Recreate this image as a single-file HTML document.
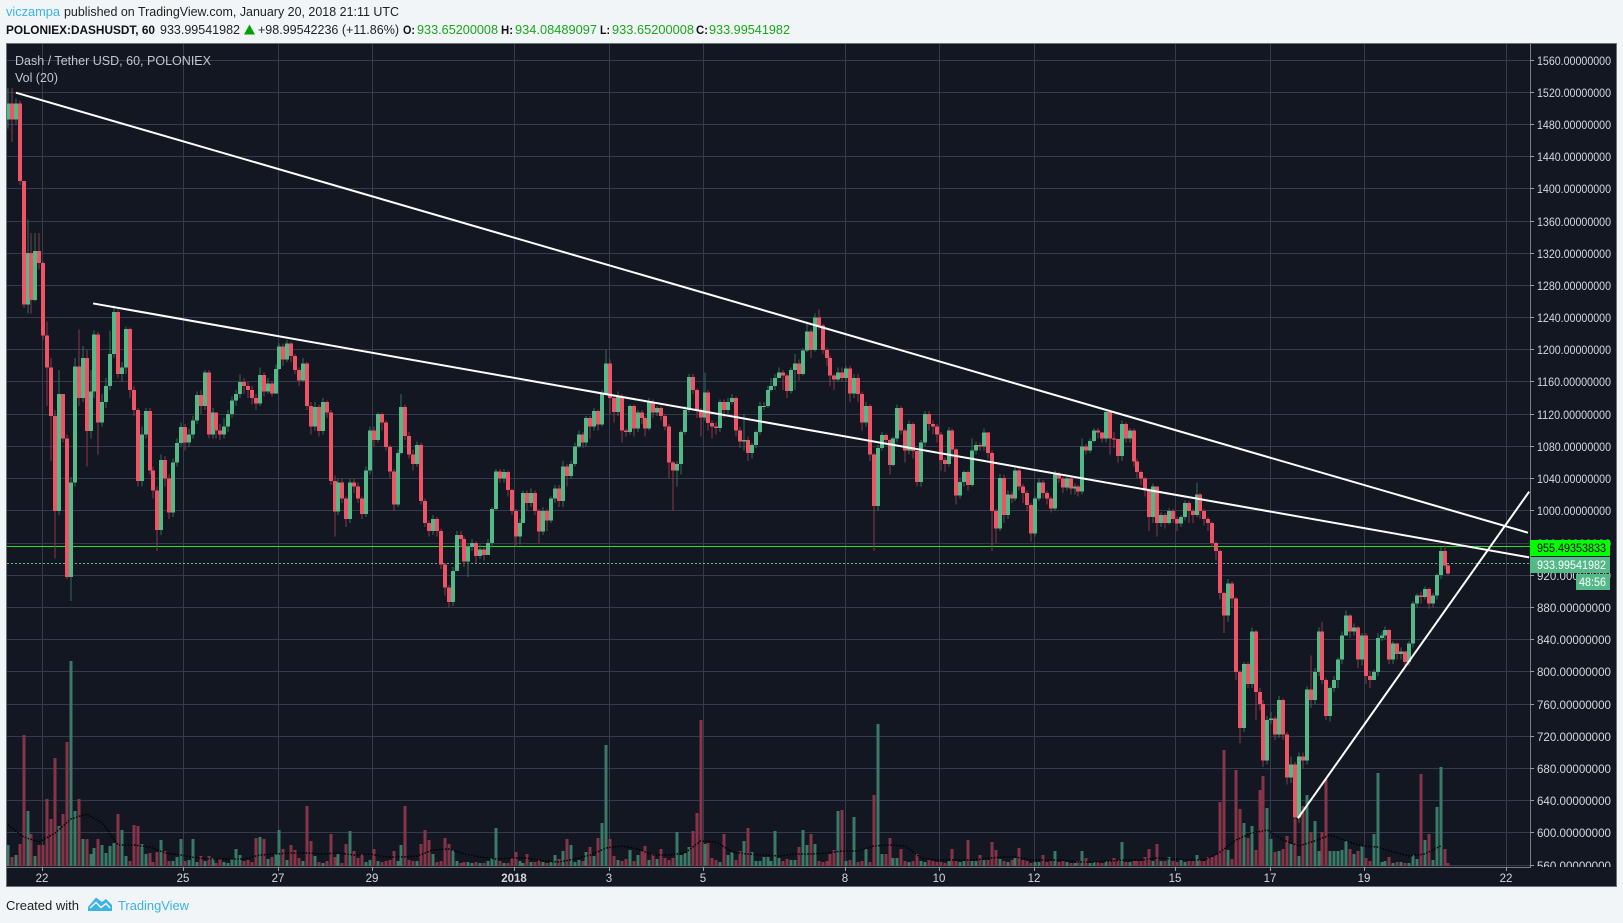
<!DOCTYPE html>
<html lang="en">
<head>
<meta charset="utf-8">
<title>DASHUSDT chart</title>
<style>
html,body{margin:0;padding:0;background:#f1f5f8;width:1623px;height:923px;overflow:hidden}
svg{display:block;font-family:"Liberation Sans",Arial,sans-serif}
</style>
</head>
<body>
<svg id="chart" xmlns="http://www.w3.org/2000/svg" width="1623" height="923" viewBox="0 0 1623 923">
  <defs>
    <clipPath id="pane"><rect x="7" y="44" width="1523" height="823"/></clipPath>
    <clipPath id="axisClip"><rect x="1530" y="44" width="86" height="823"/></clipPath>
  </defs>
  <rect x="0" y="0" width="1623" height="923" fill="#f1f5f8"/>
  <text x="6" y="16" font-size="12.5" fill="#3bb3e4" textLength="54" lengthAdjust="spacingAndGlyphs">viczampa</text>
  <text x="64" y="16" font-size="12.5" fill="#1e1e1e" textLength="335" lengthAdjust="spacingAndGlyphs">published on TradingView.com, January 20, 2018 21:11 UTC</text>
  <text x="6" y="34" font-size="12" font-weight="bold" fill="#111" textLength="149" lengthAdjust="spacingAndGlyphs">POLONIEX:DASHUSDT, 60</text>
  <text x="160" y="34" font-size="12.5" fill="#222" textLength="80" lengthAdjust="spacingAndGlyphs">933.99541982</text>
  <polygon points="244,34.500 249.500,24.500 255,34.500" fill="#00a000"/>
  <text x="258" y="34" font-size="12.500" fill="#222" textLength="141" lengthAdjust="spacingAndGlyphs">+98.99542236 (+11.86%)</text>
  <text x="403" y="34" font-size="12" font-weight="bold" fill="#111" textLength="12" lengthAdjust="spacingAndGlyphs">O:</text>
  <text x="417" y="34" font-size="12.500" fill="#18a818" textLength="81" lengthAdjust="spacingAndGlyphs">933.65200008</text>
  <text x="501" y="34" font-size="12" font-weight="bold" fill="#111" textLength="12" lengthAdjust="spacingAndGlyphs">H:</text>
  <text x="515" y="34" font-size="12.500" fill="#18a818" textLength="82" lengthAdjust="spacingAndGlyphs">934.08489097</text>
  <text x="600" y="34" font-size="12" font-weight="bold" fill="#111" textLength="10" lengthAdjust="spacingAndGlyphs">L:</text>
  <text x="612" y="34" font-size="12.500" fill="#18a818" textLength="82" lengthAdjust="spacingAndGlyphs">933.65200008</text>
  <text x="696" y="34" font-size="12" font-weight="bold" fill="#111" textLength="12" lengthAdjust="spacingAndGlyphs">C:</text>
  <text x="709" y="34" font-size="12.500" fill="#18a818" textLength="81" lengthAdjust="spacingAndGlyphs">933.99541982</text>

  <rect x="6.500" y="43.500" width="1610" height="843" fill="#131722" stroke="#6e7176" stroke-width="1"/>
  <g id="grid"></g>
  <g id="volumes" clip-path="url(#pane)"></g>
  <polyline id="volMA" fill="none" stroke="#000" stroke-width="1.500" stroke-dasharray="1.500 1.500" clip-path="url(#pane)"/>
  <line id="levelLine" x1="7" x2="1530" stroke="#22e022" stroke-width="1"/>
  <line id="lastLine" x1="7" x2="1530" stroke="#53b987" stroke-width="1" stroke-dasharray="2 2"/>
  <g id="candles" clip-path="url(#pane)"></g>
  <g id="trends" clip-path="url(#pane)"></g>
  <line x1="1530.500" x2="1530.500" y1="44" y2="868" stroke="#787b80"/>
  <line x1="7" x2="1531" y1="867.500" y2="867.500" stroke="#787b80"/>
  <g id="priceAxis" clip-path="url(#axisClip)"></g>
  <g id="timeAxis"></g>
  <g id="labels"></g>
  <text x="15" y="65" font-size="12.500" fill="#c3c6cc" textLength="196" lengthAdjust="spacingAndGlyphs">Dash / Tether USD, 60, POLONIEX</text>
  <text x="15" y="82" font-size="12.500" fill="#c3c6cc" textLength="43" lengthAdjust="spacingAndGlyphs">Vol (20)</text>

  <text x="6" y="910" font-size="12.500" fill="#1e1e1e" textLength="73" lengthAdjust="spacingAndGlyphs">Created with</text>
  <g>
    <path d="M88 907 L96 897.500 L102 902 L106 899 L112 905 L112 911 L88 911Z" fill="#3bb3e4"/>
    <path d="M90 908 L96 902.500 L101 907.500 L106 903.500 L110 908" fill="none" stroke="#f1f5f8" stroke-width="1.500"/>
  </g>
  <text x="118" y="910" font-size="12.500" fill="#3bb3e4" textLength="71" lengthAdjust="spacingAndGlyphs">TradingView</text>
</svg>
<script>
const firstHour = -17.5;
const hoursPerCandle = 2;
const firstOpen = 1486;
const closes = [
1506,1486,1506,1410,1256,1320,1262,1323,1308,1218,
1178,1118,1000,1145,1090,918,1035,1179,1140,1190,
1099,1148,1219,1110,1135,1155,1195,1247,1170,1178,
1226,1150,1125,1037,1095,1124,1050,1025,976,1063,
1040,998,1060,1084,1104,1085,1095,1112,1144,1130,
1172,1095,1122,1100,1095,1105,1120,1137,1145,1160,
1155,1150,1140,1133,1169,1148,1158,1146,1176,1204,
1188,1208,1192,1175,1162,1183,1130,1105,1129,1099,
1135,1122,1037,999,1035,1015,990,1035,1030,1015,
996,1050,1100,1088,1120,1110,1079,1049,1008,1072,
1129,1093,1070,1058,1082,1012,985,975,990,975,
933,905,887,925,970,965,937,955,960,944,
952,945,960,1002,1049,1040,1048,1026,1000,968,
985,1022,1010,1022,1000,974,1000,988,1015,1028,
1012,1055,1043,1058,1080,1095,1085,1115,1105,1124,
1107,1146,1183,1140,1123,1142,1100,1098,1130,1102,
1122,1115,1102,1135,1122,1128,1118,1105,1060,1050,
1058,1098,1125,1166,1150,1125,1116,1147,1109,1105,
1103,1135,1125,1135,1140,1100,1086,1088,1072,1082,
1098,1130,1130,1150,1155,1165,1172,1168,1149,1175,
1183,1170,1199,1223,1200,1240,1230,1200,1190,1168,
1163,1172,1165,1177,1146,1165,1145,1110,1130,1070,
1006,1078,1094,1088,1057,1090,1128,1100,1075,1108,
1074,1036,1085,1120,1108,1105,1095,1063,1058,1100,
1076,1019,1036,1048,1032,1075,1082,1080,1097,1072,
1000,978,1041,995,1020,1015,1050,1030,1022,1007,
972,1015,1035,1022,1015,1003,1046,1040,1029,1040,
1028,1030,1024,1080,1075,1087,1100,1097,1090,1123,
1090,1089,1068,1108,1090,1100,1061,1048,1040,1025,
992,1030,985,995,985,1000,990,984,992,1010,
1000,995,1020,1000,990,985,960,950,898,870,
910,891,800,730,810,785,850,775,760,690,
740,742,722,765,722,669,685,619,695,690,
778,765,800,850,790,745,780,790,815,845,
870,850,855,815,845,795,790,800,842,845,
852,815,835,822,825,812,835,885,895,893,
903,885,895,920,950,932,922];
const highs = [
1525,1525,1512,1510,1400,1362,1345,1345,1345,1310,
1235,1190,1125,1175,1145,1095,1042,1190,1225,1205,
1200,1175,1224,1222,1145,1165,1224,1255,1250,1185,
1229,1228,1155,1128,1105,1128,1128,1055,1030,1070,
1068,1045,1065,1090,1110,1108,1102,1118,1148,1150,
1175,1175,1128,1122,1108,1115,1125,1142,1150,1170,
1165,1160,1155,1145,1178,1172,1165,1160,1182,1208,
1208,1212,1210,1195,1178,1190,1185,1135,1135,1132,
1140,1137,1125,1044,1040,1040,1018,1040,1040,1035,
1018,1055,1105,1105,1122,1122,1112,1082,1052,1076,
1145,1132,1098,1076,1086,1085,1015,988,995,992,
978,935,908,930,975,975,968,960,965,962,
958,955,965,1005,1052,1052,1052,1050,1028,1002,
990,1025,1025,1028,1025,1002,1005,1002,1018,1032,
1032,1062,1058,1062,1085,1100,1098,1118,1118,1128,
1126,1150,1200,1188,1142,1148,1145,1102,1132,1132,
1125,1125,1118,1140,1138,1130,1130,1120,1108,1062,
1062,1100,1130,1170,1170,1152,1128,1172,1150,1112,
1110,1138,1138,1140,1145,1142,1104,1120,1092,1084,
1100,1135,1135,1155,1165,1170,1178,1175,1170,1178,
1195,1188,1202,1235,1226,1245,1250,1232,1203,1193,
1170,1178,1178,1180,1180,1170,1170,1148,1135,1132,
1072,1082,1098,1096,1090,1092,1132,1130,1102,1112,
1110,1076,1088,1124,1124,1112,1108,1098,1066,1104,
1102,1078,1040,1050,1050,1090,1086,1085,1102,1098,
1075,1002,1046,1045,1025,1024,1055,1055,1033,1025,
1010,1018,1040,1038,1025,1018,1050,1048,1042,1042,
1044,1034,1032,1090,1083,1090,1103,1103,1098,1125,
1124,1098,1090,1112,1110,1103,1102,1065,1050,1042,
1028,1034,1030,998,997,1003,1002,993,995,1013,
1012,1002,1035,1022,1002,992,987,962,952,900,
915,912,893,802,812,812,855,852,780,765,
745,750,745,770,767,725,695,688,700,700,
782,820,805,855,862,792,782,795,818,850,
876,872,860,857,848,848,800,803,848,850,
856,853,838,836,830,826,838,888,897,900,
906,905,898,922,955,957,934];
const lows = [
1475,1458,1480,1405,1252,1245,1245,1260,1300,1212,
1130,1062,941,995,1085,915,888,1030,1130,1135,
1055,1090,1140,1070,1105,1128,1150,1190,1165,1160,
1170,1140,1118,1030,1030,1090,1045,1015,950,970,
1030,990,992,1055,1080,1075,1080,1090,1108,1120,
1125,1090,1090,1090,1088,1090,1098,1115,1130,1140,
1145,1140,1132,1125,1130,1142,1145,1142,1145,1175,
1180,1185,1185,1170,1155,1160,1125,1095,1100,1092,
1095,1115,1032,968,995,1010,980,985,1022,1010,
990,992,1045,1080,1085,1100,1075,1040,1000,1005,
1070,1088,1065,1050,1055,1008,980,968,970,968,
928,895,880,882,925,955,930,918,950,935,
940,938,945,955,1000,1035,1035,1018,995,955,
958,985,1000,1005,995,960,970,975,985,1010,
1005,1005,1030,1040,1055,1078,1078,1080,1090,1100,
1100,1105,1145,1120,1110,1118,1085,1092,1095,1092,
1098,1108,1092,1100,1115,1118,1112,1100,1040,1000,
1030,1045,1095,1122,1145,1115,1092,1112,1100,1090,
1095,1098,1115,1120,1132,1092,1078,1075,1062,1065,
1078,1095,1125,1128,1148,1150,1165,1150,1140,1146,
1150,1162,1168,1197,1190,1198,1225,1195,1180,1155,
1150,1160,1160,1160,1135,1140,1135,1100,1105,1062,
950,1000,1075,1082,1045,1055,1085,1095,1060,1070,
1065,1030,1030,1080,1100,1095,1085,1050,1048,1055,
1065,1008,1015,1030,1025,1030,1070,1075,1075,1065,
950,960,975,985,990,1010,1012,1025,1010,1000,
962,968,1012,1015,1008,998,1000,1035,1022,1025,
1020,1020,1018,1020,1070,1072,1085,1090,1085,1085,
1070,1078,1060,1062,1085,1085,1055,1040,1032,1018,
975,985,968,980,978,983,985,975,980,988,
985,985,992,990,982,975,955,938,890,848,
862,880,790,711,725,780,780,740,752,682,
685,735,715,718,715,660,662,612,612,680,
685,755,760,795,785,740,738,775,780,810,
845,842,845,805,808,785,780,790,795,838,
840,810,810,815,815,805,808,830,880,885,
890,878,880,890,915,928,920];
const volumes = [
21,9,11,22,131,55,32,10,21,21,
67,47,108,40,52,124,205,55,67,27,
27,12,18,27,21,13,20,23,52,36,
10,5,41,40,22,12,13,4,14,26,
15,5,5,9,27,5,6,27,4,10,
5,10,8,3,7,4,3,7,17,11,
5,6,4,28,29,27,7,9,12,36,
17,6,21,16,8,5,60,25,10,4,
3,5,32,9,12,3,22,35,15,8,
12,4,6,17,5,4,5,6,15,5,
21,60,6,5,5,22,36,26,12,4,
5,28,22,16,5,3,4,4,3,4,
3,3,5,8,38,5,3,3,8,14,
5,3,12,4,4,6,4,3,4,11,
7,15,27,21,4,6,5,14,19,10,
28,43,121,27,10,6,5,7,16,5,
11,15,20,6,12,7,17,8,6,8,
34,11,13,19,35,53,146,22,23,8,
6,4,32,11,14,6,15,25,38,14,
5,5,9,9,5,35,8,5,7,6,
6,19,36,21,32,22,5,4,5,12,
16,55,56,5,6,49,4,5,17,4,
71,142,12,12,28,8,8,17,5,4,
5,12,5,4,6,5,4,4,3,5,
17,5,4,5,26,5,5,11,6,6,
24,16,7,5,4,6,8,18,6,5,
3,4,4,11,4,5,15,4,5,4,
3,3,5,15,8,3,4,4,3,5,
5,8,6,24,4,4,5,5,5,9,
17,5,22,5,5,9,5,4,6,4,
5,5,11,6,5,9,9,11,64,116,
16,7,96,57,43,28,40,16,76,90,
58,27,14,15,17,30,22,47,10,60,
71,34,45,15,34,87,15,15,15,16,
25,17,12,15,20,8,5,32,93,4,
5,9,3,4,4,3,3,11,7,92,
26,32,6,59,99,17,3];
const volumeAverage = [
41,29,24,33,47,52,43,21,21,19,13,11,8,7,7,7,11,12,13,13,12,13,11,12,9,9,10,16,17,12,9,
7,8,8,5,4,7,11,18,20,17,11,11,13,25,24,14,12,11,10,12,12,13,15,15,20,
21,20,8,6,6,6,7,9,9,6,6,6,4,4,5,6,6,8,7,6,6,14,26,33,36,
26,20,25,31,25,20,19,14,10,12,20];
const volumeAverageStep = 4;
const priceTicks = [1560,1520,1480,1440,1400,1360,1320,1280,1240,1200,1160,1120,1080,1040,1000,960,920,880,840,800,760,720,680,640,600,560];
const dateLabels = ['22','25','27','29','2018','3','5','8','10','12','15','17','19','22'];
const dateHours = [0,72,120,168,240,288,336,408,456,504,576,624,672,744];
const trendStartHours = [-13.4,25.8,638];
const trendStartPrices = [1519.4,1257.6,618];
const trendEndHours = [754.9,755.5,755.5];
const trendEndPrices = [972.8,942.2,1023.7];
const levelPrice = 955.49353833;
const lastPrice = 933.99541982;
const levelLabel = '955.49353833';
const lastLabel = '933.99541982';
const countdownLabel = '48:56';

const NS = 'http://www.w3.org/2000/svg';
const xAt = h => 42.3 + h * 1.968;
const yAt = p => 865 - (p - 560) * 0.805;
const vAt = v => 866 - v;
function make(tag, attrs, parent) {
  const n = document.createElementNS(NS, tag);
  for (const k in attrs) n.setAttribute(k, attrs[k]);
  parent.appendChild(n);
  return n;
}
const grid = document.getElementById('grid');
const priceAxis = document.getElementById('priceAxis');
const timeAxis = document.getElementById('timeAxis');
priceTicks.forEach(p => {
  const y = Math.floor(yAt(p)) + .5;
  const g = make('line', {x1: 7, x2: 1530, y1: y, y2: y, stroke: '#363a4c'}, grid);
  
  
  const t = make('line', {x1: 1530, x2: 1534, y1: y, y2: y, stroke: '#9a9ca0'}, priceAxis);
  
  
  const s = make('text', {x: 1537, y: y + 4.5, 'font-size': 11.5, fill: '#d6d8dc', textLength: 74, lengthAdjust: 'spacingAndGlyphs'}, priceAxis);
  s.textContent = p + '.00000000';
  
  
});
dateHours.forEach((h, i) => {
  const x = Math.floor(xAt(h)) + .5;
  const g = make('line', {x1: x, x2: x, y1: 44, y2: 867, stroke: '#363a4c'}, grid);
  
  
  const t = make('line', {x1: x, x2: x, y1: 867, y2: 871, stroke: '#9a9ca0'}, timeAxis);
  
  
  const bold = dateLabels[i] === '2018';
  const s = make('text', {x: x - .5, y: 882, 'font-size': 11.5, fill: '#d6d8dc', 'text-anchor': 'middle', 'font-weight': bold ? 'bold' : 'normal'}, timeAxis);
  s.textContent = dateLabels[i];
  
  
});

const candleGroup = document.getElementById('candles');
const volumeGroup = document.getElementById('volumes');
closes.forEach((c, i) => {
  const o = i ? closes[i - 1] : firstOpen;
  const up = c >= o;
  const x = xAt(firstHour + i * hoursPerCandle);
  const px = Math.round(x);
  const hi = Math.max(highs[i], o, c);
  const lo = Math.min(lows[i], o, c);
  const bar = make('rect', {x: px - 1.5, y: vAt(volumes[i]), width: 3, height: volumes[i], fill: up ? '#3a7a66' : '#863447', 'shape-rendering': 'crispEdges'}, volumeGroup);
  
  
  const wick = make('rect', {x: px - .5, y: yAt(hi), width: 1, height: yAt(lo) - yAt(hi), fill: up ? '#336e5c' : '#8a3a4c', 'shape-rendering': 'crispEdges'}, candleGroup);
  
  
  const top = yAt(Math.max(o, c));
  const body = make('rect', {x: px - 2, y: top, width: 4, height: Math.max(1, yAt(Math.min(o, c)) - top), fill: up ? '#53b987' : '#ef5366', 'shape-rendering': 'crispEdges'}, candleGroup);
  
  
});

document.getElementById('volMA').setAttribute('points', volumeAverage.map((v, i) =>
  xAt(firstHour + i * volumeAverageStep * hoursPerCandle).toFixed(1) + ',' + vAt(v)).join(' '));

const levelLine = document.getElementById('levelLine');
levelLine.setAttribute('y1', Math.floor(yAt(levelPrice)) + .5);
levelLine.setAttribute('y2', Math.floor(yAt(levelPrice)) + .5);
const lastLine = document.getElementById('lastLine');
lastLine.setAttribute('y1', Math.floor(yAt(lastPrice)) + .5);
lastLine.setAttribute('y2', Math.floor(yAt(lastPrice)) + .5);

const trends = document.getElementById('trends');
trendStartHours.forEach((h, i) => {
  const l = make('line', {x1: xAt(h), y1: yAt(trendStartPrices[i]), x2: xAt(trendEndHours[i]), y2: yAt(trendEndPrices[i]), stroke: '#fff', 'stroke-width': 2}, trends);
  
  
});

const labels = document.getElementById('labels');
const levelY = yAt(levelPrice), lastY = yAt(lastPrice);
const r1 = make('rect', {x: 1530, y: Math.round(levelY) - 7, width: 80, height: 16, fill: '#00ff00'}, labels);


const t1 = make('text', {x: 1537, y: Math.round(levelY) + 5, 'font-size': 11.5, fill: '#000', textLength: 69, lengthAdjust: 'spacingAndGlyphs'}, labels);
t1.textContent = levelLabel;


const r2 = make('rect', {x: 1530, y: Math.round(lastY) - 7, width: 80, height: 16, fill: '#53b987'}, labels);


const t2 = make('text', {x: 1537, y: Math.round(lastY) + 5, 'font-size': 11.5, fill: '#fff', textLength: 69, lengthAdjust: 'spacingAndGlyphs'}, labels);
t2.textContent = lastLabel;


const r3 = make('rect', {x: 1576, y: Math.round(lastY) + 10, width: 34, height: 16, fill: '#53b987'}, labels);


const t3 = make('text', {x: 1579, y: Math.round(lastY) + 22, 'font-size': 11.5, fill: '#fff', textLength: 27, lengthAdjust: 'spacingAndGlyphs'}, labels);
t3.textContent = countdownLabel;


</script>
</body>
</html>
